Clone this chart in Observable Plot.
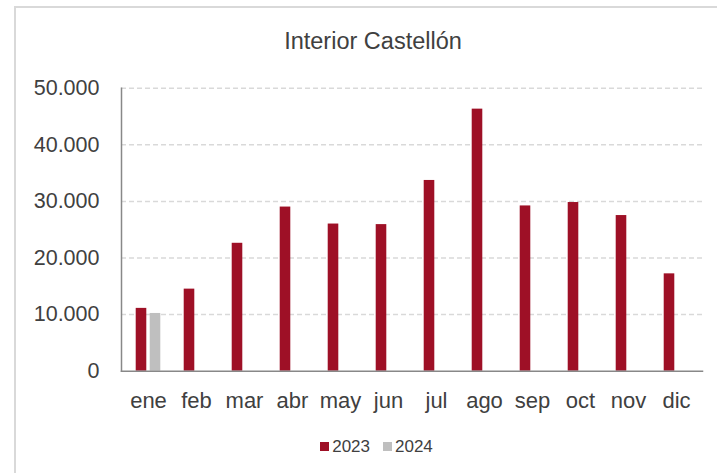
<!DOCTYPE html>
<html><head><meta charset="utf-8">
<script src="https://cdn.jsdelivr.net/npm/d3@7"></script>
<script src="https://cdn.jsdelivr.net/npm/@observablehq/plot@0.6"></script>
<style>
body{margin:0;background:#fff;font-family:"Liberation Sans",Arial,sans-serif;color:#404040}
#frame{position:absolute;left:14px;top:6px;width:720px;height:480px;border-left:2px solid #d9d9d9;border-top:2px solid #d9d9d9}
#title{position:absolute;left:0;width:746px;top:30px;text-align:center;font-size:23.5px;line-height:23.5px;color:#404040}
#chart{position:absolute;left:0;top:60px}
#legend{position:absolute;left:0;width:753px;top:430px}
.lg-swatch{margin-right:13px !important}
.lg-swatch:last-child{margin-right:0 !important}
.lg-swatch > svg{margin-right:3px !important}
</style></head><body>
<div id="frame"></div>
<div id="title">Interior Castellón</div>
<div id="chart"></div>
<div id="legend"></div>
<script>
const months = ["ene","feb","mar","abr","may","jun","jul","ago","sep","oct","nov","dic"];
const series = ["2023","2024"];
const values2023 = [11100,14500,22600,29000,26000,25900,33700,46300,29200,29800,27500,17200];
const values2024 = [10200];
const yTicks = [0,10000,20000,30000,40000,50000];
const colors = ["#9e1026","#bfbfbf"];

const data2023 = months.map((m,i)=>({month:m, year:series[0], value:values2023[i]}));
const data2024 = values2024.map((v,i)=>({month:months[i], year:series[1], value:v}));

const fmt = d3.formatLocale({decimal:",", thousands:".", grouping:[3], currency:["","€"]}).format(",d");
const W = 717, H = 380, ML = 121, MR = 15;
const band = (W - ML - MR) / months.length;
const barW = 11, gap = 3;
const outer = band/2 - gap/2 - barW, inner = band/2 + gap/2;
const font = '"Liberation Sans", Arial, sans-serif';

const plot = Plot.plot({
  width: W, height: H, marginLeft: ML, marginRight: MR, marginTop: 27.7, marginBottom: 69.3,
  style: {fontFamily: font, fontSize: "21.5px", color: "#404040", background: "transparent", overflow: "visible"},
  x: {domain: months, padding: 0, label: null},
  y: {domain: [0, 50000], label: null},
  color: {domain: series, range: colors},
  marks: [
    Plot.ruleY(yTicks.filter(d => d > 0), {stroke: "#d9d9d9", strokeWidth: 1.5, strokeDasharray: "5,3"}),
    Plot.barY(data2023, {x: "month", y: "value", fill: "year", insetLeft: outer, insetRight: inner}),
    Plot.barY(data2024, {x: "month", y: "value", fill: "year", insetLeft: inner, insetRight: outer}),
    Plot.axisY({ticks: yTicks, tickSize: 0, tickPadding: 22, tickFormat: fmt, label: null, fontSize: 21.5}),
    Plot.axisX({tickSize: 0, tickPadding: 21.5, label: null, fontSize: 22}),
    Plot.frame({anchor: "left", stroke: "#888888", strokeWidth: 1.5}),
    Plot.frame({anchor: "bottom", stroke: "#888888", strokeWidth: 1.5})
  ]
});
document.getElementById("chart").appendChild(plot);

const lg = Plot.legend({
  color: {domain: series, range: colors},
  legend: "swatches", swatchSize: 9, className: "lg",
  style: {fontSize: "17px", fontFamily: font, color: "#404040"}
});
lg.style.justifyContent = "center";
lg.style.minHeight = "33px";
document.getElementById("legend").appendChild(lg);
</script>
</body></html>
